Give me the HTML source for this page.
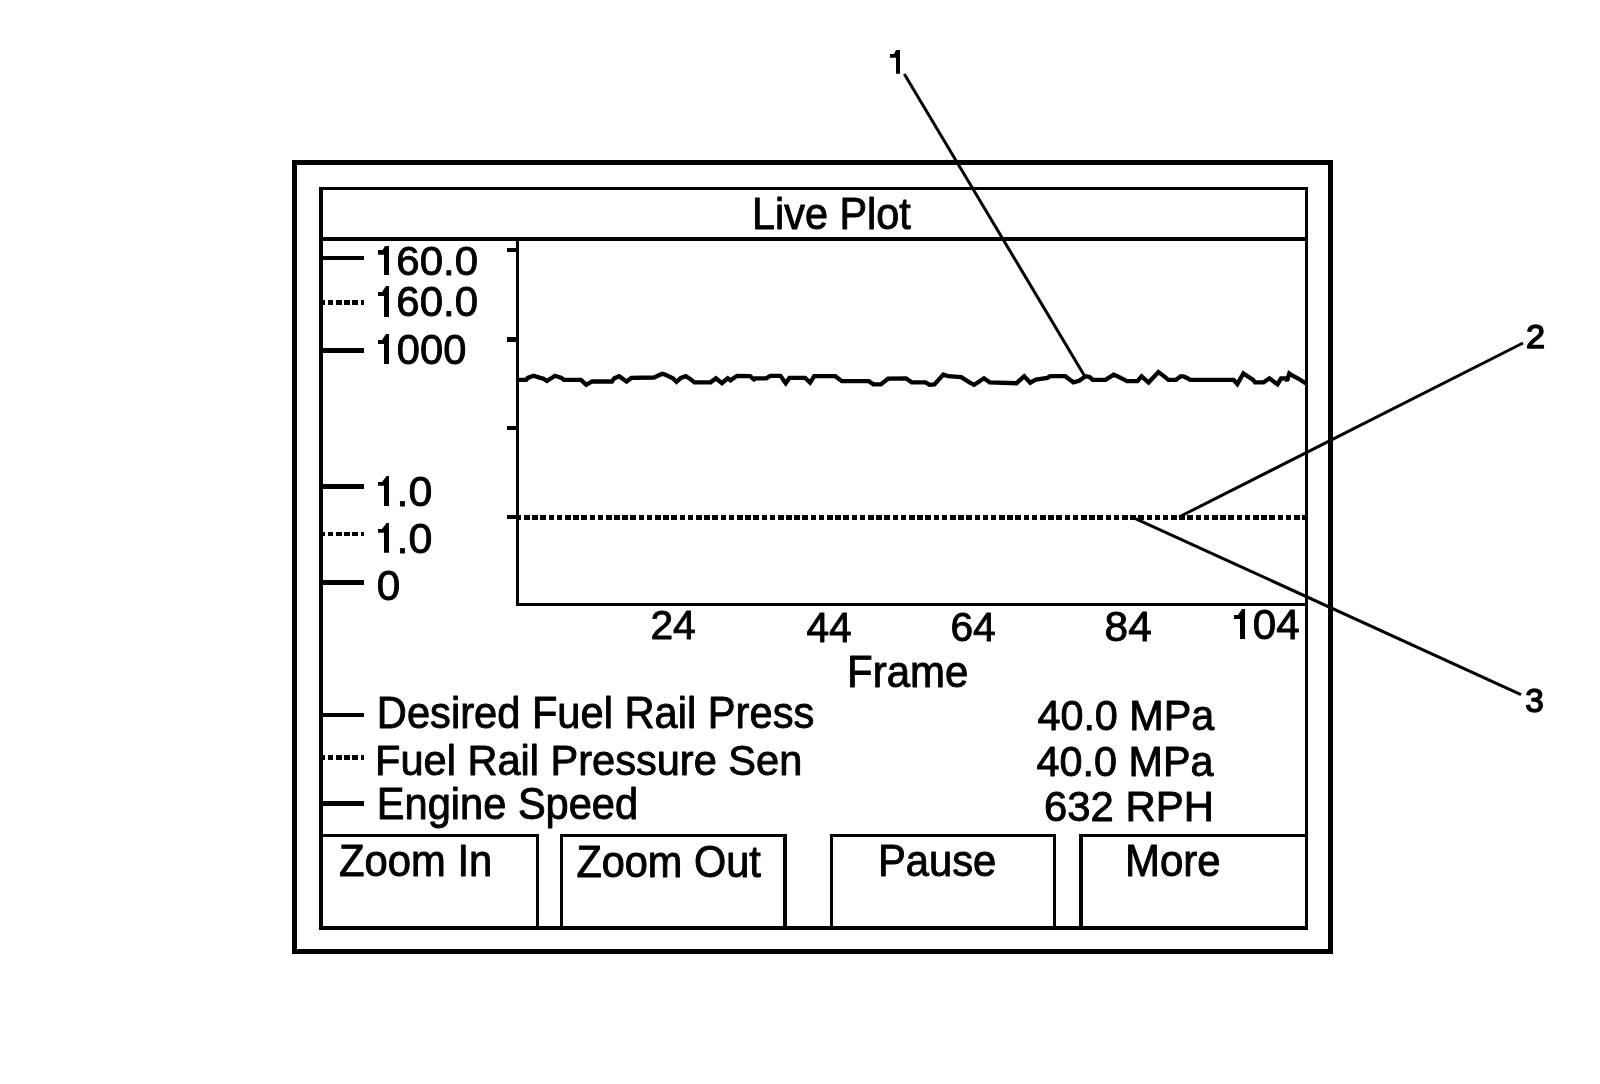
<!DOCTYPE html>
<html><head><meta charset="utf-8"><title>Live Plot</title>
<style>html,body{margin:0;padding:0;background:#fff;width:1600px;height:1084px;overflow:hidden}svg{display:block;will-change:transform}</style></head>
<body><svg width="1600" height="1084" viewBox="0 0 1600 1084">
<rect width="1600" height="1084" fill="#fff"/>
<g fill="#000" shape-rendering="crispEdges"><rect x="292" y="160" width="1041" height="5"/><rect x="292" y="949" width="1041" height="5"/><rect x="292" y="160" width="5" height="794"/><rect x="1328" y="160" width="5" height="794"/><rect x="319" y="187" width="989" height="3"/><rect x="319" y="926" width="989" height="4"/><rect x="319" y="187" width="4" height="743"/><rect x="1305" y="187" width="3" height="743"/><rect x="323" y="237" width="982" height="4"/><rect x="516" y="241" width="3" height="365"/><rect x="516" y="603" width="789" height="3"/><rect x="507" y="248" width="9" height="4"/><rect x="507" y="337" width="9" height="5"/><rect x="507" y="426" width="9" height="4"/><rect x="507" y="515" width="9" height="4"/><rect x="323" y="256" width="41" height="4"/><rect x="323" y="348" width="41" height="5"/><rect x="323" y="484" width="41" height="5"/><rect x="323" y="580" width="41" height="5"/><rect x="323" y="713" width="41" height="4"/><rect x="323" y="801" width="41" height="5"/><rect x="323" y="300" width="2" height="5"/><rect x="328" y="300" width="5" height="5"/><rect x="336" y="300" width="5.5" height="5"/><rect x="344" y="300" width="6" height="5"/><rect x="352" y="300" width="6" height="5"/><rect x="360.5" y="300" width="3.5" height="5"/><rect x="323" y="532" width="2" height="4"/><rect x="328" y="532" width="5" height="4"/><rect x="336" y="532" width="5.5" height="4"/><rect x="344" y="532" width="6" height="4"/><rect x="352" y="532" width="6" height="4"/><rect x="360.5" y="532" width="3.5" height="4"/><rect x="323" y="755" width="2" height="5"/><rect x="328" y="755" width="5" height="5"/><rect x="336" y="755" width="5.5" height="5"/><rect x="344" y="755" width="6" height="5"/><rect x="352" y="755" width="6" height="5"/><rect x="360.5" y="755" width="3.5" height="5"/><rect x="319" y="834" width="220" height="3"/><rect x="536" y="834" width="3" height="96"/><rect x="560" y="834" width="227" height="3"/><rect x="560" y="834" width="3" height="96"/><rect x="783" y="834" width="4" height="96"/><rect x="830" y="834" width="226" height="3"/><rect x="830" y="834" width="3" height="96"/><rect x="1053" y="834" width="3" height="96"/><rect x="1079" y="834" width="229" height="3"/><rect x="1079" y="834" width="4" height="96"/><rect x="519" y="515" width="2" height="5"/><rect x="524" y="515" width="6" height="5"/><rect x="532" y="515" width="6" height="5"/><rect x="540" y="515" width="6" height="5"/><rect x="549" y="515" width="5" height="5"/><rect x="557" y="515" width="5" height="5"/><rect x="565" y="515" width="6" height="5"/><rect x="573" y="515" width="6" height="5"/><rect x="581" y="515" width="6" height="5"/><rect x="590" y="515" width="5" height="5"/><rect x="598" y="515" width="5" height="5"/><rect x="606" y="515" width="6" height="5"/><rect x="614" y="515" width="6" height="5"/><rect x="622" y="515" width="6" height="5"/><rect x="630" y="515" width="6" height="5"/><rect x="639" y="515" width="5" height="5"/><rect x="647" y="515" width="5" height="5"/><rect x="655" y="515" width="6" height="5"/><rect x="663" y="515" width="6" height="5"/><rect x="671" y="515" width="6" height="5"/><rect x="680" y="515" width="5" height="5"/><rect x="688" y="515" width="5" height="5"/><rect x="696" y="515" width="6" height="5"/><rect x="704" y="515" width="6" height="5"/><rect x="712" y="515" width="6" height="5"/><rect x="721" y="515" width="5" height="5"/><rect x="729" y="515" width="5" height="5"/><rect x="737" y="515" width="6" height="5"/><rect x="745" y="515" width="6" height="5"/><rect x="753" y="515" width="6" height="5"/><rect x="762" y="515" width="5" height="5"/><rect x="770" y="515" width="5" height="5"/><rect x="778" y="515" width="6" height="5"/><rect x="786" y="515" width="6" height="5"/><rect x="794" y="515" width="6" height="5"/><rect x="802" y="515" width="6" height="5"/><rect x="811" y="515" width="5" height="5"/><rect x="819" y="515" width="5" height="5"/><rect x="827" y="515" width="6" height="5"/><rect x="835" y="515" width="6" height="5"/><rect x="843" y="515" width="6" height="5"/><rect x="852" y="515" width="5" height="5"/><rect x="860" y="515" width="5" height="5"/><rect x="868" y="515" width="6" height="5"/><rect x="876" y="515" width="6" height="5"/><rect x="884" y="515" width="6" height="5"/><rect x="893" y="515" width="5" height="5"/><rect x="901" y="515" width="5" height="5"/><rect x="909" y="515" width="6" height="5"/><rect x="917" y="515" width="6" height="5"/><rect x="925" y="515" width="6" height="5"/><rect x="934" y="515" width="5" height="5"/><rect x="942" y="515" width="5" height="5"/><rect x="950" y="515" width="6" height="5"/><rect x="958" y="515" width="6" height="5"/><rect x="966" y="515" width="6" height="5"/><rect x="975" y="515" width="5" height="5"/><rect x="983" y="515" width="5" height="5"/><rect x="991" y="515" width="5" height="5"/><rect x="999" y="515" width="6" height="5"/><rect x="1007" y="515" width="6" height="5"/><rect x="1015" y="515" width="6" height="5"/><rect x="1024" y="515" width="5" height="5"/><rect x="1032" y="515" width="5" height="5"/><rect x="1040" y="515" width="6" height="5"/><rect x="1048" y="515" width="6" height="5"/><rect x="1056" y="515" width="6" height="5"/><rect x="1065" y="515" width="5" height="5"/><rect x="1073" y="515" width="5" height="5"/><rect x="1081" y="515" width="6" height="5"/><rect x="1089" y="515" width="6" height="5"/><rect x="1097" y="515" width="6" height="5"/><rect x="1106" y="515" width="5" height="5"/><rect x="1114" y="515" width="5" height="5"/><rect x="1122" y="515" width="6" height="5"/><rect x="1130" y="515" width="6" height="5"/><rect x="1138" y="515" width="6" height="5"/><rect x="1147" y="515" width="5" height="5"/><rect x="1155" y="515" width="5" height="5"/><rect x="1163" y="515" width="5" height="5"/><rect x="1171" y="515" width="6" height="5"/><rect x="1179" y="515" width="6" height="5"/><rect x="1187" y="515" width="6" height="5"/><rect x="1196" y="515" width="5" height="5"/><rect x="1204" y="515" width="5" height="5"/><rect x="1212" y="515" width="6" height="5"/><rect x="1220" y="515" width="6" height="5"/><rect x="1228" y="515" width="6" height="5"/><rect x="1237" y="515" width="5" height="5"/><rect x="1245" y="515" width="5" height="5"/><rect x="1253" y="515" width="6" height="5"/><rect x="1261" y="515" width="6" height="5"/><rect x="1269" y="515" width="6" height="5"/><rect x="1278" y="515" width="5" height="5"/><rect x="1286" y="515" width="5" height="5"/><rect x="1294" y="515" width="6" height="5"/><rect x="1302" y="515" width="3" height="5"/></g>
<polyline points="518.80,379.90 526.20,379.90 527.80,377.90 533.50,375.80 540.40,377.90 543.60,378.70 546.90,381.00 555.00,375.80 561.50,377.90 563.90,379.90 581.00,379.90 586.30,384.80 592.00,381.50 611.90,381.50 614.30,378.30 619.20,376.20 626.50,381.50 631.40,377.90 654.10,377.50 657.80,375.80 662.20,373.80 665.10,374.60 672.80,378.30 676.50,381.90 680.90,377.90 685.80,376.20 691.50,379.90 694.30,382.30 710.60,382.30 715.90,378.30 722.00,383.20 727.60,378.30 730.50,380.30 737.00,375.80 750.00,376.20 754.00,379.50 755.30,378.30 766.20,378.30 770.30,375.80 780.50,375.80 785.70,383.20 789.40,377.90 805.20,377.90 810.10,382.70 814.20,376.20 835.30,376.20 841.80,381.10 868.60,381.10 873.50,384.40 880.80,384.40 888.10,378.70 906.00,378.30 911.70,382.30 925.50,382.30 929.60,384.80 934.40,384.40 943.40,374.60 948.20,376.20 961.20,377.10 969.40,382.30 974.20,384.80 984.00,378.30 989.70,382.30 1016.50,383.20 1024.20,376.20 1030.30,382.70 1036.00,379.50 1047.40,377.90 1050.20,376.20 1065.20,376.20 1073.40,382.30 1079.10,380.70 1085.60,376.20 1089.60,377.10 1092.90,379.90 1105.50,379.90 1113.60,374.60 1117.20,376.20 1127.00,381.10 1137.50,381.10 1141.60,376.40 1148.60,382.50 1158.40,372.00 1161.00,373.90 1168.50,379.90 1176.00,379.90 1180.50,376.30 1183.50,376.30 1186.90,378.00 1190.20,379.90 1233.60,379.90 1237.30,384.00 1243.40,373.40 1245.00,374.60 1253.10,379.90 1255.10,382.30 1263.70,382.30 1269.40,378.30 1277.50,384.40 1281.10,378.30 1285.60,378.30 1287.20,380.70 1289.30,373.40 1292.10,375.40 1297.80,378.30 1306.00,383.50" fill="none" stroke="#000" stroke-width="4.3" stroke-linejoin="miter" stroke-miterlimit="2"/>
<g stroke="#000" stroke-width="3" stroke-linecap="butt"><line x1="904.3" y1="74" x2="1084.3" y2="375.4"/><line x1="1179" y1="517" x2="1523" y2="343"/><line x1="1133.7" y1="517.8" x2="1521" y2="694.6"/></g>
<g fill="#000"><polygon points="385.00,246.00 389.00,246.00 389.00,275.00 384.00,275.00 384.00,254.70 378.00,254.70 378.00,250.00 382.70,250.00"/><polygon points="386.00,286.00 389.00,286.00 389.00,316.90 384.00,316.90 384.00,295.90 378.00,295.90 378.00,292.00 382.00,292.00"/><polygon points="386.00,334.00 389.00,334.00 389.00,363.90 384.00,363.90 384.00,343.90 378.00,343.90 378.00,340.00 382.00,340.00"/><polygon points="386.50,476.00 389.00,476.00 389.00,505.90 384.00,505.90 384.00,485.80 378.00,485.80 378.00,482.00 382.00,482.00"/><polygon points="386.50,522.90 389.00,522.90 389.00,552.80 384.00,552.80 384.00,532.70 378.00,532.70 378.00,528.90 382.00,528.90"/><polygon points="1242.00,608.90 1245.00,608.90 1245.00,638.90 1240.00,638.90 1240.00,619.00 1234.00,619.00 1234.00,615.00 1238.00,615.00"/><polygon points="896.00,50.00 900.00,50.00 900.00,73.80 896.00,73.80 896.00,57.70 890.00,57.70 890.00,53.90 894.00,53.90"/></g>
<g font-family="Liberation Sans, sans-serif" font-size="100" fill="#000" stroke="#000" stroke-linejoin="round"><text transform="matrix(0.4140 0 0 0.4375 752.05 228.55)" stroke-width="2.11">Live Plot</text><text transform="matrix(0.4202 0 0 0.4103 396.32 274.85)" stroke-width="2.17">60.0</text><text transform="matrix(0.4202 0 0 0.4181 396.32 315.84)" stroke-width="2.15">60.0</text><text transform="matrix(0.4169 0 0 0.4223 396.82 363.94)" stroke-width="2.14">000</text><text transform="matrix(0.4292 0 0 0.4209 396.53 505.84)" stroke-width="2.12">.0</text><text transform="matrix(0.4292 0 0 0.4237 396.53 552.94)" stroke-width="2.11">.0</text><text transform="matrix(0.4226 0 0 0.4251 376.70 600.13)" stroke-width="2.12">0</text><text transform="matrix(0.4077 0 0 0.4139 650.40 639.35)" stroke-width="2.19">24</text><text transform="matrix(0.4066 0 0 0.4230 806.52 641.55)" stroke-width="2.17">44</text><text transform="matrix(0.4079 0 0 0.4110 950.38 641.15)" stroke-width="2.20">64</text><text transform="matrix(0.4242 0 0 0.4251 1104.61 641.13)" stroke-width="2.12">84</text><text transform="matrix(0.4215 0 0 0.4251 1252.80 639.03)" stroke-width="2.13">04</text><text transform="matrix(0.4202 0 0 0.4390 847.00 686.55)" stroke-width="2.10">Frame</text><text transform="matrix(0.4166 0 0 0.4462 376.83 728.25)" stroke-width="2.09">Desired Fuel Rail Press</text><text transform="matrix(0.4156 0 0 0.4186 375.04 774.55)" stroke-width="2.16">Fuel Rail Pressure Sen</text><text transform="matrix(0.4160 0 0 0.4375 376.84 818.55)" stroke-width="2.11">Engine Speed</text><text transform="matrix(0.4136 0 0 0.4223 1037.40 729.94)" stroke-width="2.15">40.0 MPa</text><text transform="matrix(0.4136 0 0 0.4223 1036.50 775.94)" stroke-width="2.15">40.0 MPa</text><text transform="matrix(0.4191 0 0 0.4294 1043.92 821.43)" stroke-width="2.12">632 RPH</text><text transform="matrix(0.4175 0 0 0.4360 339.12 876.45)" stroke-width="2.11">Zoom In</text><text transform="matrix(0.4149 0 0 0.4404 576.38 876.55)" stroke-width="2.11">Zoom Out</text><text transform="matrix(0.4175 0 0 0.4375 877.93 876.45)" stroke-width="2.11">Pause</text><text transform="matrix(0.4192 0 0 0.4360 1125.01 876.45)" stroke-width="2.11">More</text><text transform="matrix(0.3424 0 0 0.3380 1526.03 348.15)" stroke-width="4.41">2</text><text transform="matrix(0.3332 0 0 0.3305 1525.28 711.83)" stroke-width="4.52">3</text></g>
</svg></body></html>
